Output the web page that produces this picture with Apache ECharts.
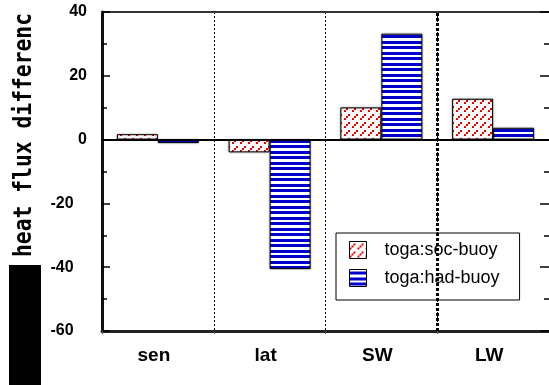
<!DOCTYPE html>
<html>
<head>
<meta charset="utf-8">
<script src="https://cdn.jsdelivr.net/npm/echarts@6/dist/echarts.min.js"></script>
<style>html,body{margin:0;padding:0;background:#fff;}#c{width:549px;height:385px;}</style>
</head>
<body>
<div id="c"></div>
<script>
var categories = ['sen', 'lat', 'SW', 'LW'];
var socBuoy = [1.7, -4.0, 10.1, 12.8];
var hadBuoy = [-1.1, -40.6, 33.2, 3.7];
var seriesNames = ['toga:soc-buoy', 'toga:had-buoy'];
var yTicks = { min: -60, max: 40, interval: 20 };
var yTitle = 'heat flux differenc';

function makeHatch() {
  var c = document.createElement('canvas');
  c.width = 8; c.height = 8;
  var g = c.getContext('2d');
  g.fillStyle = '#fff'; g.fillRect(0, 0, 8, 8);
  g.fillStyle = '#ee0000';
  g.fillRect(0, 6, 2, 2);
  g.fillRect(2, 4, 2, 2);
  g.fillRect(4, 2, 2, 2);
  return c;
}
function makeStripes() {
  var c = document.createElement('canvas');
  c.width = 4; c.height = 11;
  var g = c.getContext('2d');
  g.fillStyle = '#fff'; g.fillRect(0, 0, 4, 11);
  g.fillStyle = '#0000cc';
  g.fillRect(0, 2, 4, 3);
  g.fillRect(0, 8, 4, 3);
  return c;
}

var chart = echarts.init(document.getElementById('c'), null, { renderer: 'canvas' });
var barStyle = function (img) {
  return { color: { image: img, repeat: 'repeat' }, borderColor: '#000', borderWidth: 1,
           shadowColor: 'rgba(0,0,0,0.35)', shadowBlur: 2 };
};

chart.setOption({
  backgroundColor: '#fff',
  animation: false,
  grid: { left: 102, top: 12, width: 448, height: 319, containLabel: false },
  legend: {
    data: seriesNames,
    orient: 'vertical',
    left: 336, top: 233,
    padding: [8, 20, 13, 13],
    itemWidth: 17, itemHeight: 17, itemGap: 10,
    backgroundColor: '#fff', borderColor: '#000', borderWidth: 1,
    icon: 'rect',
    textStyle: { fontFamily: 'Liberation Sans, Arial, sans-serif', fontSize: 18, color: '#000',
                 padding: [0, 0, 0, 13], lineHeight: 17 },
    itemStyle: { borderColor: '#000', borderWidth: 1 }
  },
  xAxis: [{
    type: 'category', data: categories, position: 'bottom',
    axisLine: { onZero: false, lineStyle: { color: '#222', width: 3 } },
    axisTick: { show: true, length: 3, lineStyle: { color: '#555' } },
    axisLabel: { fontFamily: 'Liberation Sans, Arial, sans-serif', fontWeight: 'bold', fontSize: 19,
                 color: '#000', margin: 15, padding: [0, 8, 0, 0] },
    splitLine: { show: true, lineStyle: { color: '#000', width: 1, type: [2, 2] } }
  }, {
    type: 'value', position: 'top', min: 0, max: 4, show: true,
    axisLine: { show: true, onZero: false, lineStyle: { color: '#333', width: 2 } },
    axisTick: { show: false }, axisLabel: { show: false }, splitLine: { show: false }
  }],
  yAxis: [{
    type: 'value', position: 'left', min: yTicks.min, max: yTicks.max, interval: yTicks.interval,
    axisLine: { show: true, onZero: false, lineStyle: { color: '#111', width: 3 } },
    axisTick: { show: true, inside: true, length: 8, lineStyle: { color: '#000', width: 1.5 } },
    minorTick: { show: true, splitNumber: 2, length: 5, lineStyle: { color: '#000', width: 1.5 } },
    axisLabel: { fontFamily: 'Liberation Sans, Arial, sans-serif', fontWeight: 'bold', fontSize: 16,
                 color: '#000', margin: 15,
                 formatter: function (v) { return v < 0 ? v + '   ' : String(v); } },
    splitLine: { show: false }
  }, {
    type: 'value', position: 'right', min: yTicks.min, max: yTicks.max, interval: yTicks.interval,
    axisLine: { show: true, onZero: false, lineStyle: { color: '#000', width: 1 } },
    axisTick: { show: true, inside: true, length: 9, lineStyle: { color: '#000', width: 1.5 } },
    minorTick: { show: true, splitNumber: 2, length: 5, lineStyle: { color: '#000', width: 1.5 } },
    axisLabel: { show: false },
    splitLine: { show: false }
  }],
  series: [{
    name: seriesNames[0], type: 'bar', data: socBuoy, barWidth: 41, barGap: '0%',
    itemStyle: barStyle(makeHatch()),
    markLine: { symbol: 'none', silent: true, label: { show: false },
                lineStyle: { color: '#000', width: 2, type: 'solid' }, data: [{ yAxis: 0 }] }
  }, {
    name: seriesNames[1], type: 'bar', data: hadBuoy, barWidth: 41, barGap: '0%',
    itemStyle: barStyle(makeStripes())
  }, {
    name: 'divider', type: 'line', xAxisIndex: 1, yAxisIndex: 0, data: [],
    markLine: { symbol: 'none', silent: true, label: { show: false },
                lineStyle: { color: '#000', width: 3, type: [3, 2] }, data: [{ xAxis: 3 }] }
  }],
  graphic: [{
    type: 'rect', left: 9, top: 265, shape: { width: 32, height: 120 },
    style: { fill: '#000' }
  }, {
    type: 'text', x: 37, y: 257, rotation: Math.PI / 2, scaleX: 0.889,
    style: { text: yTitle, font: 'bold 24px "DejaVu Sans Mono", monospace', fill: '#000',
             align: 'left', verticalAlign: 'bottom' }
  }]
});
</script>
</body>
</html>
